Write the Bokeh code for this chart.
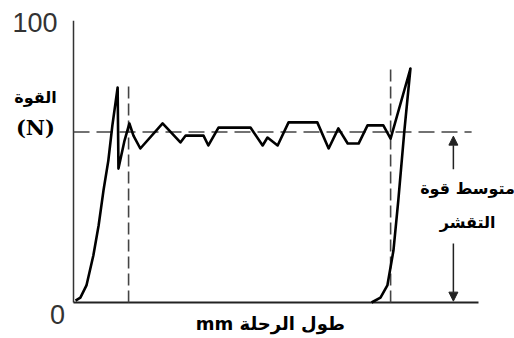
from bokeh.plotting import figure
from bokeh.models import Range1d, Arrow, NormalHead
from bokeh.core.properties import value
from bokeh.embed import file_html
from bokeh.resources import INLINE

# ---- data (mm, N) ----
force_x = [0.5, 1.7, 3.2, 4.9, 6.2, 7.4, 8.6, 9.6, 10.9, 11.1, 12.6, 13.8, 14.8, 16.5,
           22.0, 26.4, 27.7, 32.1, 33.3, 35.8, 43.7, 46.7, 47.9, 50.4, 53.1, 60.2,
           63.0, 65.4, 67.7, 70.4, 72.6, 76.5, 78.3, 83.2, 81.7, 80.2, 79.0, 77.5,
           75.8, 73.6]
force_y = [0.7, 1.8, 6.2, 17.1, 28.0, 40.7, 51.6, 64.4, 78.2, 48.7, 58.9, 65.1, 60.7, 56.0,
           65.1, 58.2, 60.7, 60.7, 57.1, 63.6, 63.6, 57.1, 60.0, 57.1, 65.5, 65.5,
           56.0, 63.3, 57.8, 57.8, 64.4, 64.4, 59.6, 85.1, 62.5, 37.1, 18.9, 6.2,
           1.8, 0.0]
mean_force = 62
peel_start = 13.6
peel_end = 78.3
x_max = 100
y_max = 100
tick_labels = ["0", "100"]
y_label = ["القوة", "(N)"]
x_label = "\u202Bطول الرحلة mm\u202C"
mean_label = ["متوسط قوة", "التقشر"]

p = figure(width=514, height=338, output_backend="svg", toolbar_location=None,
           x_range=Range1d(-18.025, 108.89), y_range=Range1d(-13.09, 109.82),
           min_border=0, outline_line_color=None)
p.axis.visible = False
p.grid.visible = False
p.background_fill_color = "white"

# axes
p.line([0, 0], [0, 102.5], line_color="#333333", line_width=1.5)
p.line([0, x_max], [0, 0], line_color="#222222", line_width=2)

# dashed reference lines
p.line([0, 98.3], [mean_force, mean_force], line_color="#444444", line_width=1.6, line_dash="16 7")
p.line([peel_start, peel_start], [0, 78.9], line_color="#444444", line_width=1.6, line_dash="12 5")
p.line([peel_end, peel_end], [0, 86.2], line_color="#444444", line_width=1.6, line_dash="12 5")

# force curve
p.line(force_x, force_y, line_color="black", line_width=2.6, line_join="round")

# arrows for mean force
ax = 93.8
p.add_layout(Arrow(x_start=ax, y_start=48.5, x_end=ax, y_end=60.5, line_width=1.5,
                   line_color="#222222",
                   end=NormalHead(size=9, fill_color="#222222", line_color="#222222")))
p.add_layout(Arrow(x_start=ax, y_start=21.5, x_end=ax, y_end=0.5, line_width=1.5,
                   line_color="#222222",
                   end=NormalHead(size=9, fill_color="#222222", line_color="#222222")))

# tick labels
p.text(x=[-3.95], y=[101.8], text=[tick_labels[1]], text_align="right", text_baseline="middle",
       text_font=value("Liberation Sans"), text_font_size="27px", text_color="#333333")
p.text(x=[-3.95], y=[-4.4], text=[tick_labels[0]], text_align="center", text_baseline="middle",
       text_font=value("Liberation Sans"), text_font_size="27px", text_color="#333333")

# axis titles
p.text(x=[-9.4], y=[74.5], text=[y_label[0]], text_align="center", text_baseline="middle",
       text_font=value("DejaVu Sans"), text_font_style="bold", text_font_size="16px", text_color="black")
p.text(x=[-9.4], y=[63.6], text=[y_label[1]], text_align="center", text_baseline="middle",
       text_font=value("DejaVu Serif"), text_font_style="bold", text_font_size="21px", text_color="black")
p.text(x=[48.6], y=[-7.6], text=[x_label], text_align="center", text_baseline="middle",
       text_font=value("DejaVu Sans"), text_font_style="bold", text_font_size="18px", text_color="black")
p.text(x=[97.3, 97.3], y=[41.5, 29.1], text=mean_label, text_align="center", text_baseline="middle",
       text_font=value("DejaVu Sans"), text_font_style="bold", text_font_size="16px", text_color="black")

open("out.html", "w").write(file_html(p, INLINE))
